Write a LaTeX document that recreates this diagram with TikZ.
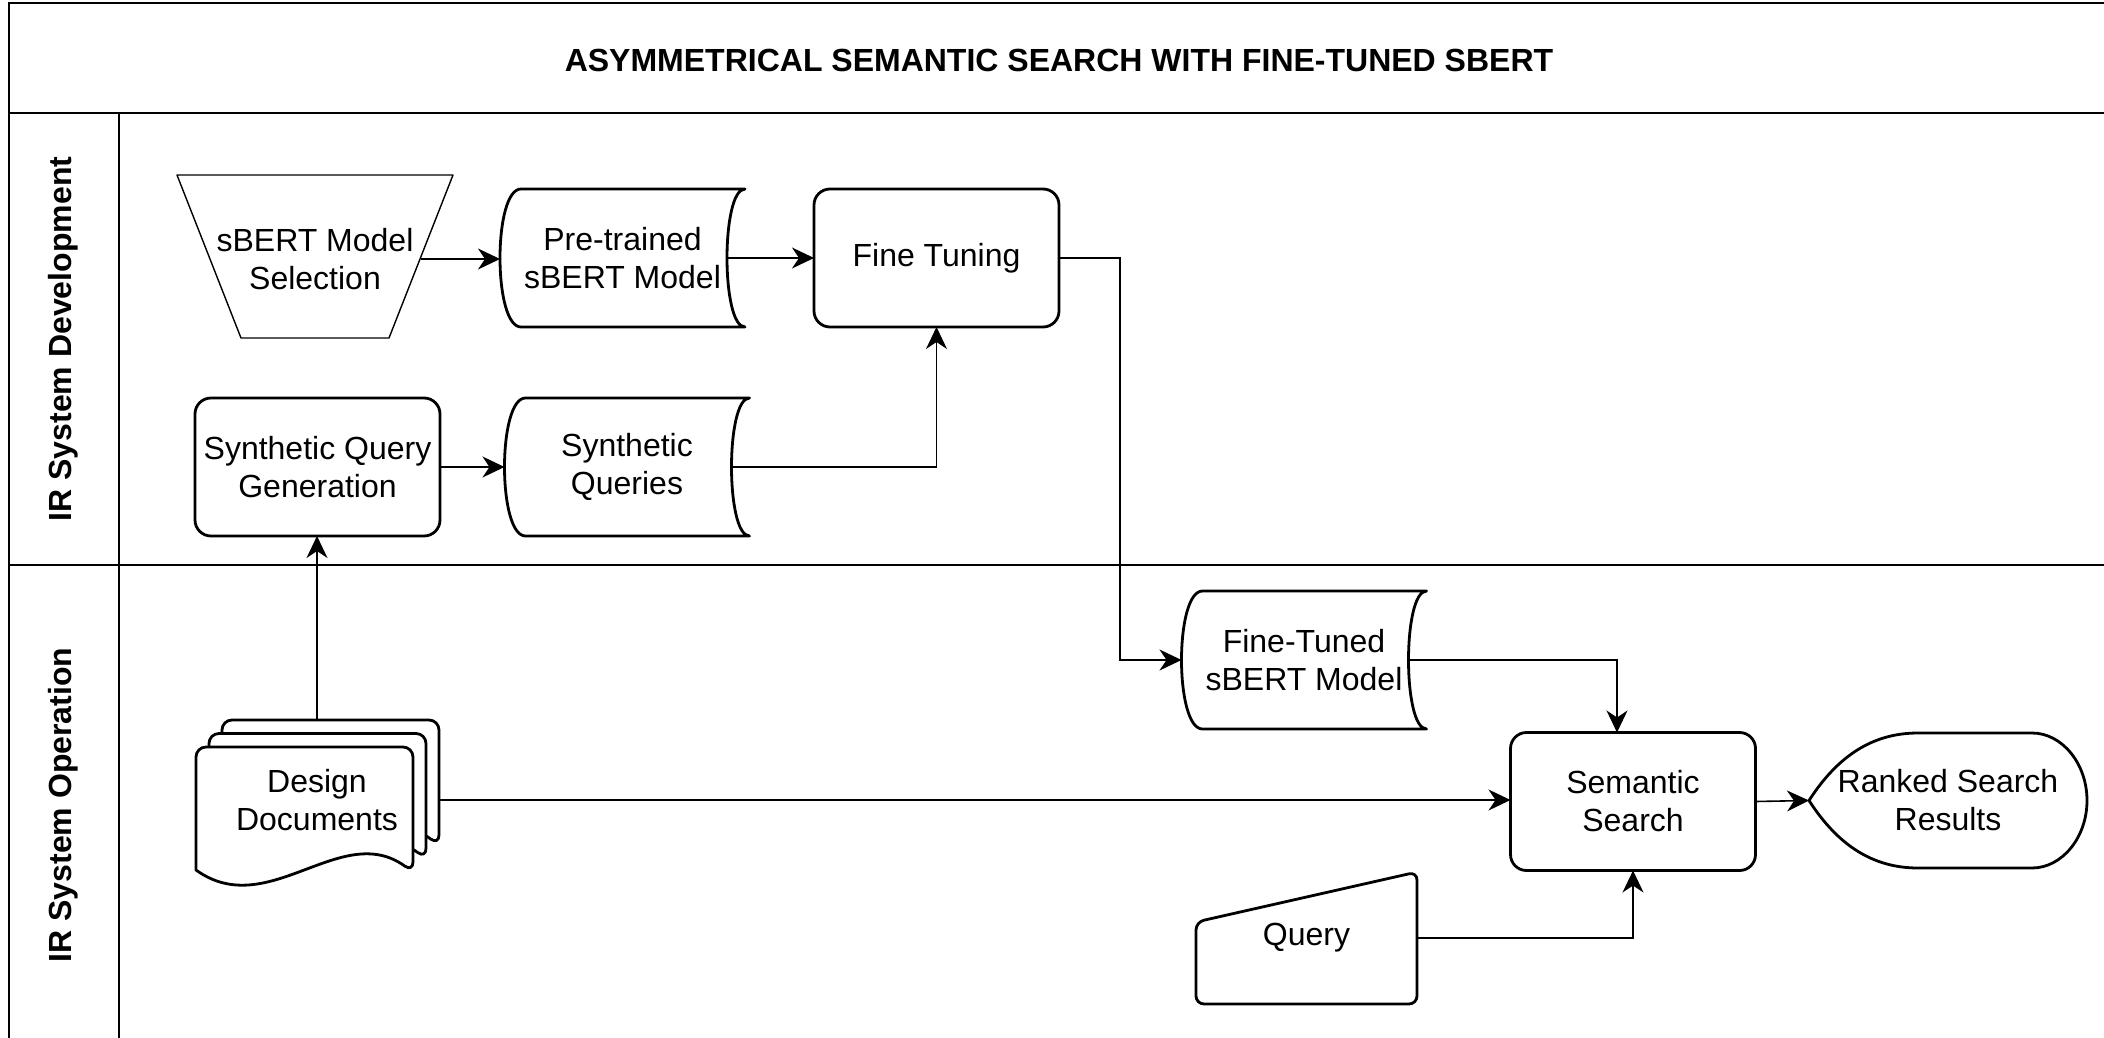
\documentclass[tikz,border=0pt]{standalone}
\usepackage{fontspec}
\setmainfont{Liberation Sans}
\usetikzlibrary{arrows.meta}

\begin{document}
\begin{tikzpicture}[%
        x=0.5pt, y=-0.5pt,
        font=\fontsize{16}{19}\selectfont,
        every node/.style={align=center, inner sep=0pt, outer sep=0pt},
        headfont/.style={font=\fontsize{16}{19}\selectfont\bfseries},
        shapebox/.style={minimum width=122.5pt, minimum height=69pt},
        process/.style={shapebox, draw, line width=1.4pt, rounded corners=8pt},
        border/.style={line width=1.4pt, line join=round},
        pool/.style={line width=1pt},
        link/.style={line width=0.8pt, -{Stealth[length=11pt, width=10.5pt, inset=3.5pt, line width=0.6pt]}}
    ]
    \useasboundingbox (0,0) rectangle (2104,1038);

    % pool, header and lanes
    \draw[pool] (2104,3) -- (9,3) -- (9,1038);
    \draw[pool] (9,113) -- (2104,113);
    \draw[line width=0.7pt] (119,113) -- (119,1038)
                            (9,565) -- (2104,565);
    \node[headfont] (title) at (1059,60) {ASYMMETRICAL SEMANTIC SEARCH WITH FINE-TUNED SBERT};
    \node[headfont, rotate=90] (dev) at (63,339) {IR System Development};
    \node[headfont, rotate=90] (ops) at (63,805) {IR System Operation};

    % stack of pages behind the documents node
    \begin{scope}[shift={(196,747)}]
        \foreach \k in {2,1,0}
            \draw[border, fill=white, shift={({13*\k},{-13.5*\k})}]
                (217,125) .. controls (145,73) and (72,175) .. (0,123)
                [rounded corners=5pt] -- (0,0) -- (217,0) -- cycle;
    \end{scope}

    \node[minimum width=138pt, minimum height=81.5pt] (sel) at (315,259) {sBERT Model\\Selection};
    \node[shapebox] (pre) at (622.5,258) {Pre-trained\\sBERT Model};
    \node[process] (ft) at (936.5,258) {Fine Tuning};
    \node[process] (sqg) at (317.5,467) {Synthetic Query\\Generation};
    \node[shapebox] (sq) at (627,467) {Synthetic\\Queries};
    \node[minimum width=121pt, minimum height=80pt] (docs) at (317,800) {Design\\Documents};
    \node[shapebox] (ftm) at (1304,660) {Fine-Tuned\\sBERT Model};
    \node[process] (ss) at (1633,801.5) {Semantic\\Search};
    \node[minimum width=139pt, minimum height=67.5pt] (rsr) at (1948,800.5) {Ranked Search\\Results};
    \node[minimum width=110.5pt, minimum height=66pt] (query) at (1306.5,938) {Query};

    % outlines of the special shapes
    \draw[border, line width=0.7pt] ([yshift=1.25pt]sel.north west) -- ([yshift=1.25pt]sel.north east)
        -- ([xshift=-32pt,yshift=1.25pt]sel.south east) -- ([xshift=32pt,yshift=1.25pt]sel.south west) -- cycle;
    \foreach \n in {pre,sq,ftm}
        \draw[border] ([xshift=10.5pt]\n.north west) -- (\n.north east)
            .. controls ([xshift=-12pt]\n.north east) and ([xshift=-12pt]\n.south east) .. (\n.south east)
            -- ([xshift=10.5pt]\n.south west)
            .. controls ([xshift=-3.5pt]\n.south west) and ([xshift=-3.5pt]\n.north west) .. ([xshift=10.5pt]\n.north west)
            -- cycle;
    \begin{scope}[shift={(rsr.center)}]
        \draw[border] (-139,0) .. controls (-110,-45) and (-75,-67.5) .. (-30,-67.5) -- (84,-67.5)
            .. controls (114,-67.5) and (139,-37) .. (139,0)
            .. controls (139,37) and (114,67.5) .. (84,67.5) -- (-30,67.5)
            .. controls (-75,67.5) and (-110,45) .. (-139,0) -- cycle;
    \end{scope}
    \begin{scope}[shift={(query.center)}]
        \draw[border, rounded corners=4pt] (-110.5,-16) -- (110.5,-66) -- (110.5,66) -- (-110.5,66) -- cycle;
    \end{scope}

    % connectors
    \draw[link] ([xshift=-16pt]sel.east) -- (sel.east -| pre.west);
    \draw[link] ([xshift=-9pt]pre.east) -- (pre.east -| ft.west);
    \draw[link] (ft.east) -- ++(61,0) |- (ftm.west);
    \draw[link] (sqg.east) -- (sq.west);
    \draw[link] ([xshift=-9pt]sq.east) -| (ft.south);
    \draw[link] (docs.north) -- (docs.north |- sqg.south);
    \draw[link] (docs.east) -- (docs.east -| ss.west);
    \draw[link] ([xshift=-9pt]ftm.east) -| ([xshift=-8pt]ss.north);
    \draw[link] (query.east) -| (ss.south);
    \draw[link] (ss.east) -- (rsr.west);
\end{tikzpicture}
\end{document}
